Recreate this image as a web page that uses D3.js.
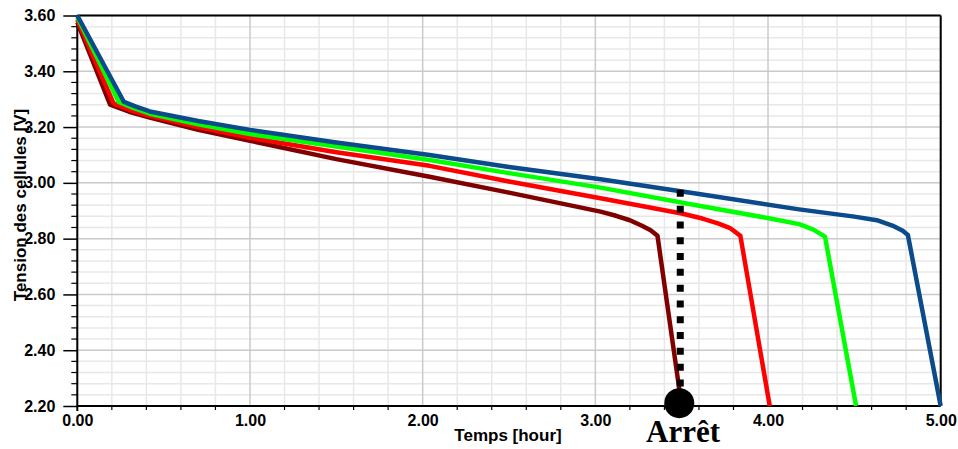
<!DOCTYPE html>
<html><head><meta charset="utf-8">
<script src="https://cdn.jsdelivr.net/npm/d3@7"></script>
<style>
body{margin:0;background:#fff;}
svg{display:block;}
</style></head>
<body>
<svg id="c" width="958" height="449"></svg>
<script>
// Data (hours, volts)
const darkRedSeries = [[0,3.575],[0.19,3.28],[0.3,3.255],[0.42,3.234],[0.7,3.19],[1.0,3.151],[1.5,3.085],[2.04,3.022],[2.5,2.965],[3.03,2.897],[3.12,2.882],[3.2,2.866],[3.27,2.846],[3.32,2.83],[3.36,2.81],[3.50,2.20]];
const redSeries = [[0,3.585],[0.21,3.285],[0.3,3.262],[0.42,3.24],[0.7,3.2],[1.0,3.162],[1.5,3.11],[2.04,3.061],[2.5,3.005],[3.03,2.945],[3.5,2.89],[3.62,2.872],[3.71,2.855],[3.78,2.838],[3.84,2.81],[4.01,2.20]];
const greenSeries = [[0,3.595],[0.24,3.29],[0.32,3.27],[0.42,3.248],[0.7,3.21],[1.0,3.175],[1.5,3.13],[2.04,3.082],[2.5,3.035],[3.03,2.983],[3.6,2.918],[4.05,2.868],[4.18,2.852],[4.26,2.833],[4.33,2.807],[4.51,2.20]];
const blueSeries = [[0,3.60],[0.27,3.29],[0.34,3.273],[0.42,3.256],[0.7,3.222],[1.0,3.19],[1.5,3.145],[2.04,3.10],[2.5,3.057],[3.03,3.013],[3.6,2.96],[4.18,2.905],[4.5,2.879],[4.63,2.866],[4.72,2.847],[4.78,2.828],[4.81,2.813],[5.0,2.20]];
const seriesColors = ["#800000","#ff0000","#00ff00","#0b4a8b"];
const xTicks = [0,1,2,3,4,5];
const yTicks = [2.2,2.4,2.6,2.8,3.0,3.2,3.4,3.6];
const xLabel = "Temps [hour]";
const yLabel = "Tension des cellules [V]";
const stopLabel = "Arrêt";
const stopTime = 3.486;
const stopTopVolt = 2.975;

const SANS = "'Liberation Sans', Arial, sans-serif";
const SERIF = "'Liberation Serif', 'Times New Roman', serif";
const svg = d3.select("#c");
const L = 77.3, R = 940.7, T = 15.5, B = 406;
const x = d3.scaleLinear().domain([0,5]).range([L,R]);
const y = d3.scaleLinear().domain([2.2,3.6]).range([B,T]);

// minor grid
const xMinor = d3.range(0,5.0001,0.2).filter(v=>Math.abs(v-Math.round(v))>1e-6);
const yMinor = d3.range(2.2,3.6001,0.04).filter(v=>Math.abs(v*5-Math.round(v*5))>1e-6);
const g = svg.append("g");
g.selectAll(".vm").data(xMinor).join("line")
 .attr("x1",d=>x(d)).attr("x2",d=>x(d)).attr("y1",T).attr("y2",B)
 .attr("stroke","#e8e8e8").attr("stroke-width",1.5);
g.selectAll(".hm").data(yMinor).join("line")
 .attr("y1",d=>y(d)).attr("y2",d=>y(d)).attr("x1",L).attr("x2",R)
 .attr("stroke","#e8e8e8").attr("stroke-width",1.5);
g.selectAll(".vM").data(xTicks).join("line")
 .attr("x1",d=>x(d)).attr("x2",d=>x(d)).attr("y1",T).attr("y2",B)
 .attr("stroke","#cacaca").attr("stroke-width",1.5);
g.selectAll(".hM").data(yTicks).join("line")
 .attr("y1",d=>y(d)).attr("y2",d=>y(d)).attr("x1",L).attr("x2",R)
 .attr("stroke","#cacaca").attr("stroke-width",1.5);

// minor ticks
g.selectAll(".xmt").data(xMinor).join("line")
 .attr("x1",d=>x(d)).attr("x2",d=>x(d)).attr("y1",B).attr("y2",B+4)
 .attr("stroke","#000").attr("stroke-width",1.2);
g.selectAll(".ymt").data(yMinor).join("line")
 .attr("y1",d=>y(d)).attr("y2",d=>y(d)).attr("x1",L-6).attr("x2",L)
 .attr("stroke","#000").attr("stroke-width",1.2);

// axes
const xAxis = d3.axisBottom(x).tickValues(xTicks).tickFormat(d3.format(".2f")).tickSize(0).tickPadding(9);
const yAxis = d3.axisLeft(y).tickValues(yTicks).tickFormat(d3.format(".2f")).tickSize(14).tickPadding(8);
const gx = svg.append("g").attr("transform",`translate(0,${B})`).call(xAxis);
const gy = svg.append("g").attr("transform",`translate(${L},0)`).call(yAxis);
[gx,gy].forEach(a=>{
  a.select(".domain").remove();
  a.selectAll("line").attr("stroke","#000").attr("stroke-width",1.5);
  a.selectAll("text").style("font-size","16px").style("font-family",SANS).style("font-weight","bold").attr("fill","#000");
});

// frame
svg.append("line").attr("x1",L).attr("x2",R).attr("y1",T).attr("y2",T).attr("stroke","#000").attr("stroke-width",2);
svg.append("line").attr("x1",R).attr("x2",R).attr("y1",T).attr("y2",B).attr("stroke","#000").attr("stroke-width",2);
svg.append("line").attr("x1",L).attr("x2",L).attr("y1",T).attr("y2",B+5).attr("stroke","#000").attr("stroke-width",2);
svg.append("line").attr("x1",L).attr("x2",R).attr("y1",B).attr("y2",B).attr("stroke","#000").attr("stroke-width",2);

// lines
const line = d3.line().x(d=>x(d[0])).y(d=>y(d[1]));
const all = [darkRedSeries, redSeries, greenSeries, blueSeries];
svg.append("g").selectAll("path").data(all).join("path")
 .attr("d",line).attr("fill","none")
 .attr("stroke",(d,i)=>seriesColors[i]).attr("stroke-width",4.5)
 .attr("stroke-linejoin","round");

// stop marker
svg.append("line").attr("x1",x(stopTime)+1).attr("x2",x(stopTime)+1)
 .attr("y1",y(stopTopVolt)).attr("y2",y(2.24))
 .attr("stroke","#000").attr("stroke-width",7).attr("stroke-dasharray","7,8.8");
svg.append("circle").attr("cx",x(stopTime)).attr("cy",y(2.21)).attr("r",15).attr("fill","#000");
svg.append("text").attr("x",683).attr("y",442).attr("text-anchor","middle")
 .style("font-family",SERIF).style("font-weight","bold").style("font-size","31px").text(stopLabel);

// axis titles
svg.append("text").attr("x",508).attr("y",441).attr("text-anchor","middle")
 .style("font-family",SANS).style("font-weight","bold").style("font-size","17px").text(xLabel);
svg.append("text").attr("transform","translate(26,205) rotate(-90)").attr("text-anchor","middle")
 .style("font-family",SANS).style("font-weight","bold").style("font-size","17px").text(yLabel);
</script>
</body></html>
